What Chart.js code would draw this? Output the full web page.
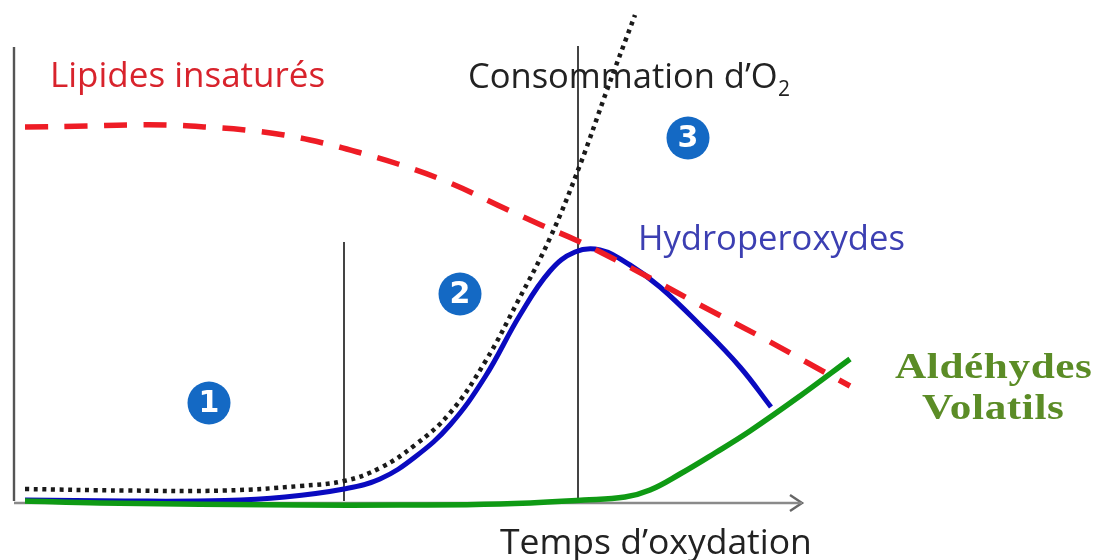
<!DOCTYPE html>
<html>
<head>
<meta charset="utf-8">
<script src="https://cdn.jsdelivr.net/npm/chart.js@4"></script>
<style>
html, body { margin: 0; padding: 0; background: #fff; }
#wrap { width: 1094px; height: 560px; }
</style>
</head>
<body>
<div id="wrap"><canvas id="chart"></canvas></div>
<script>
const lipidesTime = [25, 87, 127, 166, 206, 245, 284, 323, 361, 398, 450, 506, 541, 578, 612, 650, 700, 763, 817, 850];
const lipidesLevel = [374, 375, 376, 376, 374, 371, 366, 358, 348, 337, 318, 292, 276, 260, 243, 223, 196, 163, 133, 115];

const oxygenTime = [25, 125, 225, 300, 344, 380, 415, 450, 485, 518, 550, 580, 607, 635];
const oxygenLevel = [12, 10.5, 10.5, 15, 20, 33, 56, 88, 139, 200, 263, 336, 411, 486];

const peroxTime = [25, 125, 225, 285, 344, 380, 415, 450, 485, 520, 550, 575, 600, 630, 660, 700, 740, 771];
const peroxLevel = [1, 0, 0.5, 4, 12, 22, 44, 76, 124, 186, 230, 249, 251, 236, 214, 176, 134, 94];

const aldehydeTime = [25, 100, 300, 400, 500, 584, 625, 650, 680, 715, 750, 800, 850];
const aldehydeLevel = [0, -2, -4, -4, -3, 1, 4, 11, 27, 48, 70, 105, 142];

const phaseTime = [209, 460, 688];
const phaseLevel = [98, 207, 363];
const phaseNames = ['1', '2', '3'];

const stageLines = [
  { time: 344, top: 259 },
  { time: 578, top: 455 }
];

const toPoints = (xs, ys) => xs.map((x, i) => ({ x: x, y: ys[i] }));

const curve = (label, xs, ys, color, width, dash, order) => ({
  label: label,
  data: toPoints(xs, ys),
  borderColor: color,
  borderWidth: width,
  borderDash: dash,
  pointRadius: 0,
  tension: 0.4,
  order: order
});

const rule = (label, pts, color, width) => ({
  label: label,
  data: pts,
  borderColor: color,
  borderWidth: width,
  pointRadius: 0,
  tension: 0,
  order: 6
});

const SANS = '"Open Sans", sans-serif';
const SERIF = '"Liberation Serif", serif';

const labels = [
  { text: 'Lipides insaturés', x: 50, y: 424, font: '35px ' + SANS, color: '#d8232c' },
  { text: 'Consommation d’O', x: 468, y: 423, font: '34.5px ' + SANS, color: '#222222' },
  { text: '2', x: 778, y: 411, font: '21px ' + SANS, color: '#222222' },
  { text: 'Hydroperoxydes', x: 638, y: 261, font: '34.6px ' + SANS, color: '#3c3fb2' },
  { text: 'Temps d’oxydation', x: 500, y: -43, font: '35.5px ' + SANS, color: '#222222' },
  { text: 'Aldéhydes', x: 895, y: 132, font: 'bold 36px ' + SERIF, color: '#5b8c26', stretch: 1.2, spacing: '0.5px' },
  { text: 'Volatils', x: 922, y: 91, font: 'bold 36px ' + SERIF, color: '#5b8c26', stretch: 1.2, spacing: '0.5px' }
];

const textLayer = {
  id: 'textLayer',
  afterDatasetsDraw(chart) {
    const ctx = chart.ctx;
    const sx = chart.scales.x, sy = chart.scales.y;
    ctx.save();
    ctx.textBaseline = 'middle';
    ctx.textAlign = 'left';
    labels.forEach(l => {
      ctx.save();
      ctx.font = l.font;
      ctx.fillStyle = l.color;
      ctx.letterSpacing = l.spacing || '0px';
      ctx.translate(sx.getPixelForValue(l.x), sy.getPixelForValue(l.y));
      ctx.scale(l.stretch || 1, 1);
      ctx.fillText(l.text, 0, 0);
      ctx.restore();
    });
    ctx.font = 'bold 30px "DejaVu Sans", sans-serif';
    ctx.fillStyle = '#ffffff';
    ctx.textAlign = 'center';
    phaseNames.forEach((n, i) => {
      ctx.fillText(n, sx.getPixelForValue(phaseTime[i]), sy.getPixelForValue(phaseLevel[i]) + 1);
    });
    ctx.restore();
  }
};

new Chart(document.getElementById('chart'), {
  type: 'line',
  data: {
    datasets: [
      curve('Lipides insaturés', lipidesTime, lipidesLevel, '#ee1c25', 5.5, [23, 16.5], 2),
      curve('Consommation d’O2', oxygenTime, oxygenLevel, '#1a1a1a', 4.5, [4, 4.6], 3),
      curve('Hydroperoxydes', peroxTime, peroxLevel, '#0a0ac0', 5, [], 4),
      curve('Aldéhydes Volatils', aldehydeTime, aldehydeLevel, '#0f9a14', 5.5, [], 1),
      rule('Axe niveau', [{ x: 14, y: 0 }, { x: 14, y: 454 }], '#555555', 2.4),
      rule('Axe temps', [{ x: 14, y: -2 }, { x: 802, y: -2 }], '#8a8a8a', 2.4),
      rule('Flèche', [{ x: 790, y: 6 }, { x: 802, y: -2 }, { x: 790, y: -10 }], '#666666', 2.4),
      ...stageLines.map((s, i) => rule('Étape ' + (i + 1), [{ x: s.time, y: 0 }, { x: s.time, y: s.top }], '#444444', 2)),
      {
        label: 'Phases',
        type: 'scatter',
        data: toPoints(phaseTime, phaseLevel),
        backgroundColor: '#1469c4',
        borderWidth: 0,
        pointRadius: 21.5,
        order: 5
      }
    ]
  },
  options: {
    responsive: true,
    maintainAspectRatio: false,
    animation: false,
    layout: { padding: 0, autoPadding: false },
    plugins: { legend: { display: false }, title: { display: false }, tooltip: { enabled: false } },
    scales: {
      x: { type: 'linear', display: false, min: 0, max: 1094 },
      y: { type: 'linear', display: false, min: -59, max: 501 }
    }
  },
  plugins: [textLayer]
});
</script>
</body>
</html>
